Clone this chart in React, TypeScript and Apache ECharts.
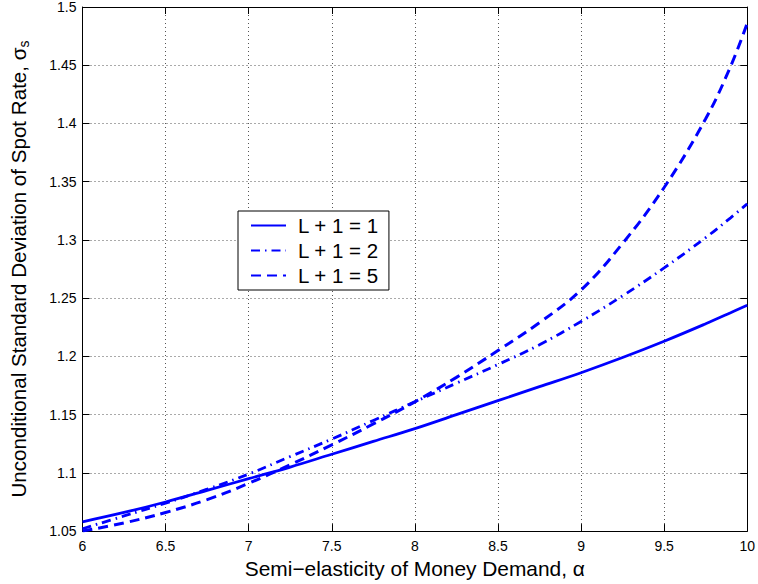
import React, { useEffect, useRef } from "react";
import * as echarts from "echarts";

const alpha = [6, 6.25, 6.5, 6.75, 7, 7.25, 7.5, 7.75, 8, 8.25, 8.5, 8.75, 9, 9.25, 9.5, 9.75, 9.9, 10];
const seriesL1 = [1.058, 1.066, 1.075, 1.085, 1.095, 1.105, 1.116, 1.127, 1.138, 1.15, 1.162, 1.174, 1.186, 1.199, 1.213, 1.228, 1.2375, 1.244];
const seriesL2 = [1.052, 1.063, 1.074, 1.086, 1.099, 1.114, 1.129, 1.145, 1.161, 1.177, 1.193, 1.21, 1.23, 1.252, 1.276, 1.302, 1.319, 1.331];
const seriesL5 = [1.05, 1.057, 1.066, 1.077, 1.091, 1.107, 1.124, 1.142, 1.161, 1.182, 1.205, 1.229, 1.257, 1.297, 1.345, 1.404, 1.449, 1.486];
const seriesNames = ["L + 1 = 1", "L + 1 = 2", "L + 1 = 5"];
const xTitle = "Semi\u2212elasticity of Money Demand, \u03b1";
const yTitle = "Unconditional Standard Deviation of Spot Rate, \u03c3";

const FONT = "'Liberation Sans', Arial, Helvetica, sans-serif";
const BLUE = "#0000ff";

export default function App() {
  const ref = useRef<HTMLDivElement>(null);
  useEffect(() => {
    if (!ref.current) return;
    const chart = echarts.init(ref.current, undefined, { renderer: "svg" });
    const pairs = (ys: number[]) => alpha.map((a, i) => [a, ys[i]]);
    const grid = { left: 81, right: 9, top: 7, bottom: 51 };
    const gridLine = { show: true, lineStyle: { color: "#555", width: 1, type: [1, 3] as any } };
    const axisLine = { show: true, onZero: false, lineStyle: { color: "#000", width: 1 } };
    const tick = { show: true, inside: true, length: 7, lineStyle: { color: "#000" } };
    chart.setOption({
      animation: false,
      backgroundColor: "#fff",
      textStyle: { fontFamily: FONT },
      grid,
      legend: {
        left: 238,
        top: 211,
        orient: "vertical",
        backgroundColor: "#fff",
        borderColor: "#000",
        borderWidth: 1,
        padding: [4, 10, 4, 12],
        itemWidth: 35,
        itemHeight: 20,
        itemGap: 4,
        itemStyle: { opacity: 0 },
        textStyle: { fontSize: 20.5, fontFamily: FONT, color: "#000", padding: [0, 0, 0, 7], lineHeight: 20 },
        data: seriesNames,
      },
      xAxis: [
        {
          type: "value",
          min: 6,
          max: 10,
          interval: 0.5,
          name: xTitle,
          nameLocation: "middle",
          nameGap: 22,
          nameTextStyle: { fontSize: 20.9, color: "#000", fontFamily: FONT },
          axisLine,
          axisTick: tick,
          axisLabel: { color: "#000", fontSize: 14, margin: 8, fontFamily: FONT },
          splitLine: gridLine,
        },
        {
          type: "value",
          position: "top",
          min: 6,
          max: 10,
          interval: 0.5,
          axisLine,
          axisTick: tick,
          axisLabel: { show: false },
          splitLine: { show: false },
        },
      ],
      yAxis: [
        {
          type: "value",
          min: 1.05,
          max: 1.5,
          interval: 0.05,
          name: "{m|" + yTitle + "}{s|s}",
          nameLocation: "middle",
          nameGap: 52,
          nameTextStyle: {
            color: "#000",
            fontFamily: FONT,
            rich: {
              m: { fontSize: 20.6, lineHeight: 24, fontFamily: FONT, color: "#000" },
              s: { fontSize: 14, lineHeight: 14, verticalAlign: "bottom", fontFamily: FONT, color: "#000" },
            },
          },
          axisLine,
          axisTick: tick,
          axisLabel: {
            color: "#000",
            fontSize: 14,
            margin: 6,
            fontFamily: FONT,
            formatter: (v: number) => String(parseFloat(v.toFixed(2))),
          },
          splitLine: gridLine,
        },
        {
          type: "value",
          position: "right",
          min: 1.05,
          max: 1.5,
          interval: 0.05,
          axisLine,
          axisTick: tick,
          axisLabel: { show: false },
          splitLine: { show: false },
        },
      ],
      series: [
        {
          name: seriesNames[0],
          type: "line",
          data: pairs(seriesL1),
          smooth: 0.4,
          symbol: "none",
          lineStyle: { color: BLUE, width: 2.8, type: "solid" },
          itemStyle: { color: BLUE },
        },
        {
          name: seriesNames[1],
          type: "line",
          data: pairs(seriesL2),
          smooth: 0.4,
          symbol: "none",
          lineStyle: { color: BLUE, width: 2.8, type: [9, 5, 1.5, 5] as any },
          itemStyle: { color: BLUE },
        },
        {
          name: seriesNames[2],
          type: "line",
          data: pairs(seriesL5),
          smooth: 0.4,
          symbol: "none",
          lineStyle: { color: BLUE, width: 3, type: [10, 6] as any },
          itemStyle: { color: BLUE },
        },
      ],
    });
    return () => chart.dispose();
  }, []);
  return <div ref={ref} style={{ position: "fixed", left: 0, top: 0, width: 758, height: 584 }} />;
}
